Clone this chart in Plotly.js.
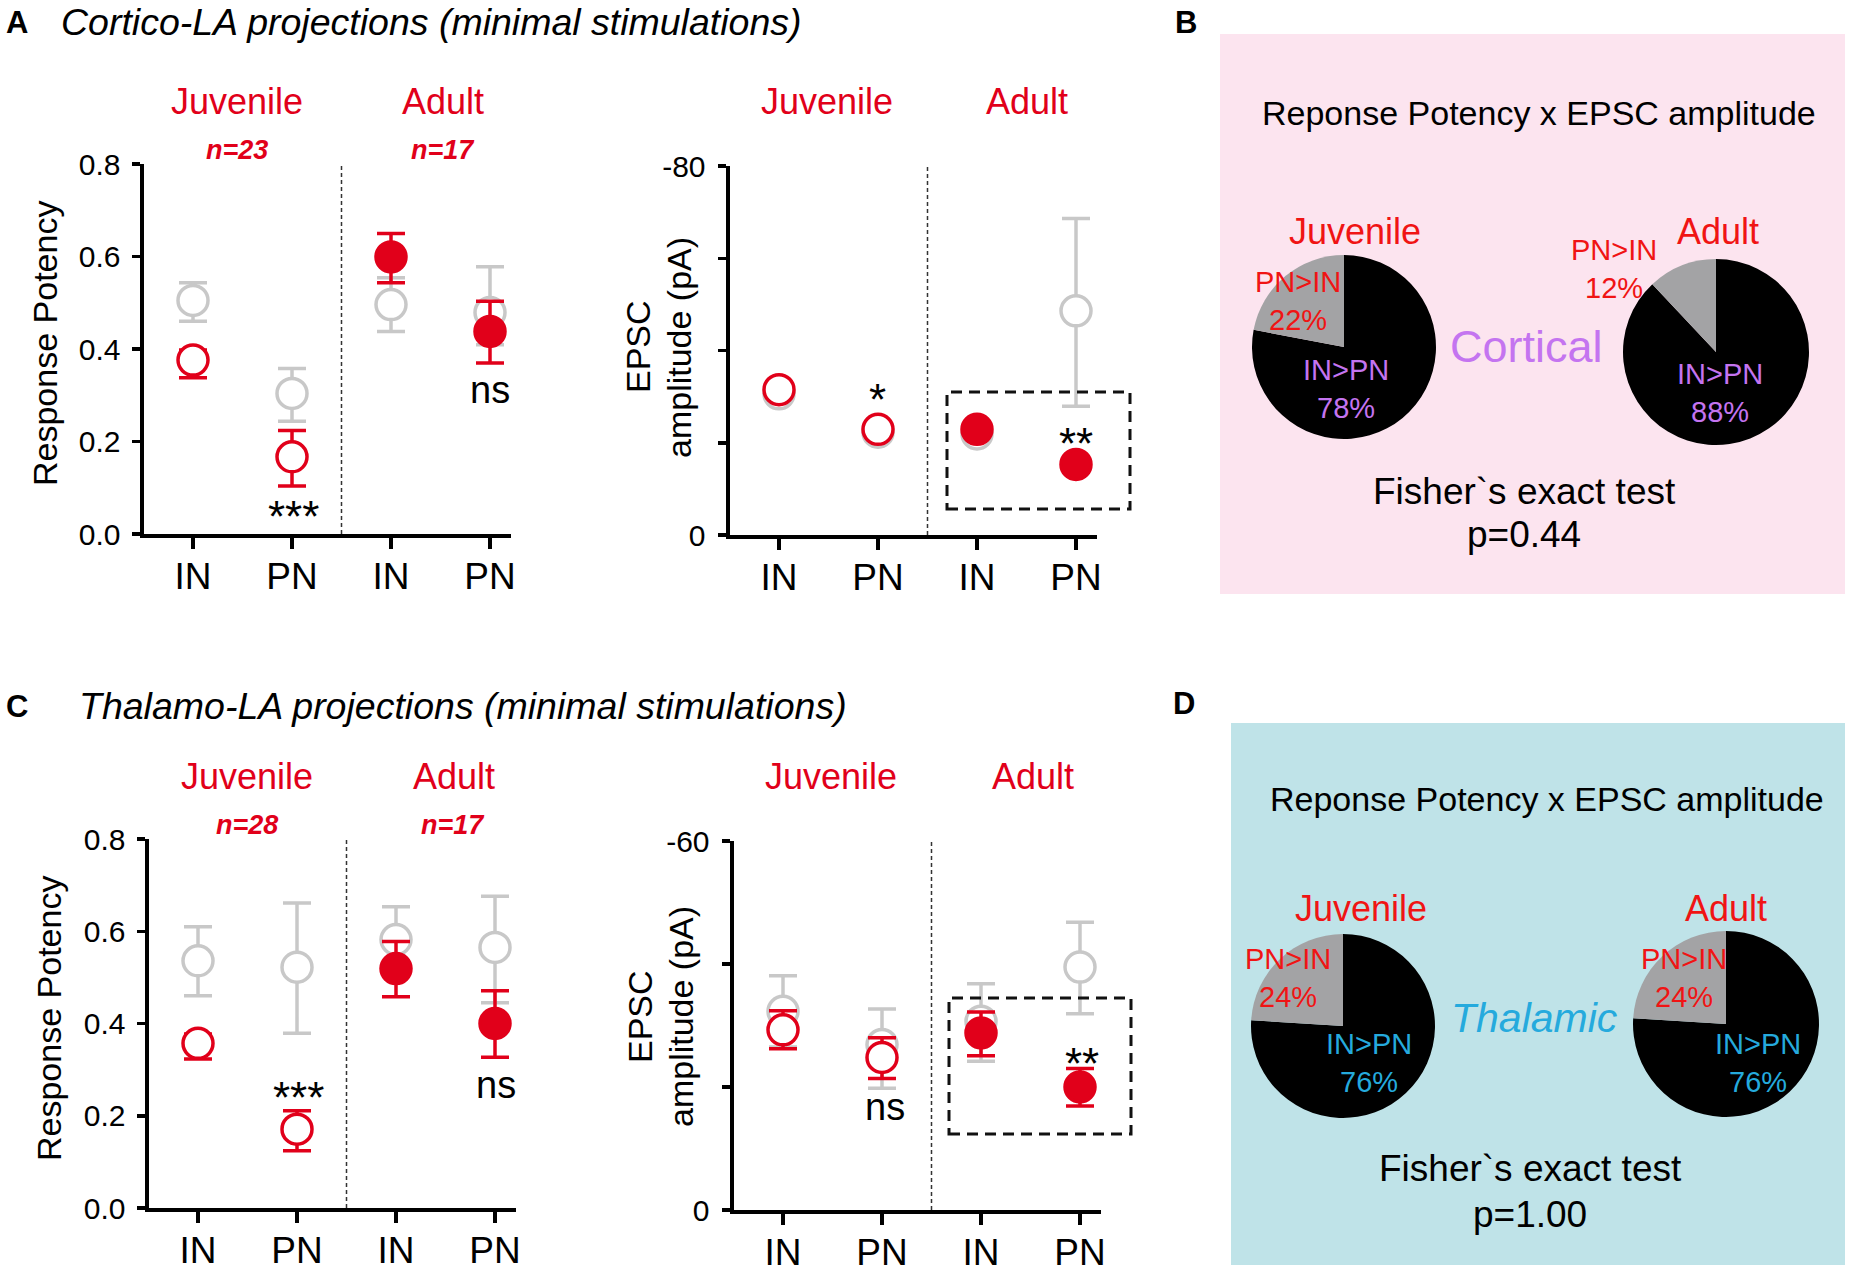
<!DOCTYPE html>
<html>
<head>
<meta charset="utf-8">
<script src="https://cdn.plot.ly/plotly-3.0.1.min.js"></script>
<style>
html,body{margin:0;padding:0;background:#fff;}
#chart{width:1851px;height:1273px;}
</style>
</head>
<body>
<div id="chart"></div>
<script>
// ---------------- DATA ----------------
const tickLabels = ['IN', 'PN', 'IN', 'PN'];
const groups = ['Juvenile', 'Adult'];
const xPos = [0, 1, 2, 3];

// Panel A: Cortico-LA, Response Potency
const nCortical = ['n=23', 'n=17'];
const rpCortGrey = [0.505, 0.304, 0.496, 0.479];
const rpCortGreyUp = [0.038, 0.054, 0.058, 0.099];
const rpCortGreyDown = [0.045, 0.060, 0.058, 0.070];
const rpCortRed = [0.376, 0.167, 0.599, 0.438];
const rpCortRedUp = [0.022, 0.057, 0.051, 0.065];
const rpCortRedDown = [0.038, 0.063, 0.056, 0.068];

// Panel A: Cortico-LA, EPSC amplitude (pA)
const epscCortGrey = [-30.6, -22.3, -21.9, -48.6];
const epscCortGreyUp = [1.5, 1.5, 1.5, 20.0];
const epscCortGreyDown = [1.5, 1.5, 1.5, 20.7];
const epscCortRed = [-31.5, -22.9, -22.9, -15.3];
const epscCortRedUp = [1.5, 1.5, 1.5, 1.5];
const epscCortRedDown = [1.5, 1.5, 1.5, 1.5];

// Panel C: Thalamo-LA, Response Potency
const nThalamic = ['n=28', 'n=17'];
const rpThalGrey = [0.536, 0.522, 0.582, 0.565];
const rpThalGreyUp = [0.074, 0.139, 0.071, 0.111];
const rpThalGreyDown = [0.076, 0.143, 0.071, 0.120];
const rpThalRed = [0.357, 0.171, 0.519, 0.400];
const rpThalRedUp = [0.020, 0.040, 0.059, 0.071];
const rpThalRedDown = [0.034, 0.047, 0.061, 0.073];

// Panel C: Thalamo-LA, EPSC amplitude (pA)
const epscThalGrey = [-32.3, -26.9, -30.7, -39.5];
const epscThalGreyUp = [5.8, 5.8, 6.1, 7.3];
const epscThalGreyDown = [5.8, 7.1, 6.5, 7.6];
const epscThalRed = [-29.3, -24.8, -28.8, -20.0];
const epscThalRedUp = [3.1, 3.2, 3.4, 3.0];
const epscThalRedDown = [3.1, 3.4, 3.7, 3.1];

// Significance marks
const sigRpCort = ['***', 'ns'];
const sigEpscCort = ['*', '**'];
const sigRpThal = ['***', 'ns'];
const sigEpscThal = ['ns', '**'];

// Pies (B, D)
const pieLabels = ['IN>PN', 'PN>IN'];
const pieCortJuv = [78, 22];
const pieCortAdult = [88, 12];
const pieThalJuv = [76, 24];
const pieThalAdult = [76, 24];
const fisherCort = 'p=0.44';
const fisherThal = 'p=1.00';

// ---------------- STYLE / LAYOUT HELPERS ----------------
const W = 1851, H = 1273;
const FONT = 'Liberation Sans, Arial, Helvetica, sans-serif';
const RED = '#e1001a';
const GREY = '#c8c8c8';
const PIE_RED = '#f01414';
const PURPLE = '#c474f0';
const CYAN = '#25aadd';
const PIE_GREY = '#a3a3a5';

const fx = p => p / W;
const fy = p => 1 - p / H;

const annotations = [];
const shapes = [];
function ann(text, x, y, o) {
  o = o || {};
  annotations.push({
    text: text, x: fx(x), y: fy(y), xref: 'paper', yref: 'paper',
    xanchor: o.xanchor || 'center', yanchor: o.yanchor || 'middle',
    showarrow: false, textangle: o.angle || 0,
    font: {family: FONT, size: o.size || 30, color: o.color || '#000'}
  });
}

const SP = 99;
function xDom(t0) { return [fx(t0 - 0.5 * SP), fx(t0 + 3.21 * SP)]; }
function yDom(top, bot) { return [fy(bot), fy(top)]; }

function xAxis(t0, anchor) {
  return {
    domain: xDom(t0), anchor: anchor, range: [-0.5, 3.21],
    tickvals: xPos, ticktext: tickLabels,
    showline: true, linewidth: 4, linecolor: '#000',
    ticks: 'outside', ticklen: 11, tickwidth: 3.5, tickcolor: '#000',
    ticklabelstandoff: -4,
    showgrid: false, zeroline: false, fixedrange: true,
    tickfont: {family: FONT, size: 37, color: '#000'}
  };
}
function yAxis(top, bot, anchor, range, tv, tt, standoff) {
  return {
    domain: yDom(top, bot), anchor: anchor, range: range,
    tickvals: tv, ticktext: tt,
    showline: true, linewidth: 4, linecolor: '#000',
    ticks: 'outside', ticklen: 8, tickwidth: 3.5, tickcolor: '#000',
    ticklabelstandoff: standoff,
    showgrid: false, zeroline: false, fixedrange: true,
    tickfont: {family: FONT, size: 30, color: '#000'}
  };
}

// error arrays given as visual up / down
function pointTraces(xa, ya, reversed, grey, gUp, gDn, red, rUp, rDn) {
  const eg = reversed ? {array: gDn, arrayminus: gUp} : {array: gUp, arrayminus: gDn};
  const er = reversed ? {array: rDn, arrayminus: rUp} : {array: rUp, arrayminus: rDn};
  return [
    {
      type: 'scatter', mode: 'markers', x: xPos, y: grey, xaxis: xa, yaxis: ya,
      marker: {symbol: 'circle', size: 30, color: '#fff', line: {color: GREY, width: 3.5}},
      error_y: Object.assign({type: 'data', symmetric: false, color: GREY, thickness: 3.5, width: 14}, eg),
      hoverinfo: 'skip', showlegend: false, cliponaxis: false
    },
    {
      type: 'scatter', mode: 'markers', x: xPos, y: red, xaxis: xa, yaxis: ya,
      marker: {symbol: 'circle', size: 30, color: ['#fff', '#fff', RED, RED],
               line: {color: RED, width: 3.5}},
      error_y: Object.assign({type: 'data', symmetric: false, color: RED, thickness: 3.5, width: 14}, er),
      hoverinfo: 'skip', showlegend: false, cliponaxis: false
    }
  ];
}

// ---------------- TRACES ----------------
let data = [];
data = data.concat(pointTraces('x', 'y', false, rpCortGrey, rpCortGreyUp, rpCortGreyDown, rpCortRed, rpCortRedUp, rpCortRedDown));
data = data.concat(pointTraces('x2', 'y2', true, epscCortGrey, epscCortGreyUp, epscCortGreyDown, epscCortRed, epscCortRedUp, epscCortRedDown));
data = data.concat(pointTraces('x3', 'y3', false, rpThalGrey, rpThalGreyUp, rpThalGreyDown, rpThalRed, rpThalRedUp, rpThalRedDown));
data = data.concat(pointTraces('x4', 'y4', true, epscThalGrey, epscThalGreyUp, epscThalGreyDown, epscThalRed, epscThalRedUp, epscThalRedDown));

function pie(values, cx, cy, r) {
  return {
    type: 'pie', values: values, labels: pieLabels, sort: false,
    direction: 'clockwise', rotation: 0, textinfo: 'none', hoverinfo: 'skip',
    marker: {colors: ['#000', PIE_GREY], line: {width: 0}},
    domain: {x: [fx(cx - r), fx(cx + r)], y: [fy(cy + r), fy(cy - r)]},
    showlegend: false
  };
}
data.push(pie(pieCortJuv, 1344, 347, 92));
data.push(pie(pieCortAdult, 1716, 352, 93));
data.push(pie(pieThalJuv, 1343, 1026, 92));
data.push(pie(pieThalAdult, 1726, 1024, 93));

// ---------------- SHAPES ----------------
shapes.push({type: 'rect', xref: 'paper', yref: 'paper', layer: 'below',
  x0: fx(1220), x1: fx(1845), y0: fy(594), y1: fy(34), fillcolor: '#fce4ef', line: {width: 0}});
shapes.push({type: 'rect', xref: 'paper', yref: 'paper', layer: 'below',
  x0: fx(1231), x1: fx(1845), y0: fy(1265), y1: fy(723), fillcolor: '#bfe3e8', line: {width: 0}});
['x', 'x2', 'x3', 'x4'].forEach((xa, i) => {
  shapes.push({type: 'line', xref: xa, yref: (i === 0 ? 'y' : 'y' + (i + 1)) + ' domain',
    x0: 1.5, x1: 1.5, y0: 0, y1: 1, line: {color: '#333', width: 1.5, dash: '4px,3px'}});
});
shapes.push({type: 'rect', xref: 'paper', yref: 'paper',
  x0: fx(947), x1: fx(1130), y0: fy(509), y1: fy(392), line: {color: '#111', width: 3, dash: '11px,7px'}});
shapes.push({type: 'rect', xref: 'paper', yref: 'paper',
  x0: fx(949), x1: fx(1131), y0: fy(1134), y1: fy(998), line: {color: '#111', width: 3, dash: '11px,7px'}});

// ---------------- ANNOTATIONS ----------------
ann('<b>A</b>', 17, 22, {size: 31});
ann('<i>Cortico-LA projections (minimal stimulations)</i>', 59, 22, {size: 37.5, xanchor: 'left'});
ann('<b>B</b>', 1186, 22, {size: 31});
ann('<b>C</b>', 17, 706, {size: 31});
ann('<i>Thalamo-LA projections (minimal stimulations)</i>', 77, 706, {size: 37.5, xanchor: 'left'});
ann('<b>D</b>', 1184, 704, {size: 31});

ann(groups[0], 237, 101, {size: 36, color: RED});
ann(groups[1], 443, 101, {size: 36, color: RED});
ann('<b><i>' + nCortical[0] + '</i></b>', 237, 150, {size: 27, color: RED});
ann('<b><i>' + nCortical[1] + '</i></b>', 443, 150, {size: 27, color: RED});
ann(groups[0], 827, 101, {size: 36, color: RED});
ann(groups[1], 1027, 101, {size: 36, color: RED});

ann(groups[0], 247, 776, {size: 36, color: RED});
ann(groups[1], 454, 776, {size: 36, color: RED});
ann('<b><i>' + nThalamic[0] + '</i></b>', 247, 825, {size: 27, color: RED});
ann('<b><i>' + nThalamic[1] + '</i></b>', 453, 825, {size: 27, color: RED});
ann(groups[0], 831, 776, {size: 36, color: RED});
ann(groups[1], 1033, 776, {size: 36, color: RED});

ann('Response Potency', 45, 344, {size: 34, angle: -90});
ann('EPSC', 638, 347, {size: 34, angle: -90});
ann('amplitude (pA)', 679, 348, {size: 34, angle: -90});
ann('Response Potency', 49, 1019, {size: 34, angle: -90});
ann('EPSC', 640, 1017, {size: 34, angle: -90});
ann('amplitude (pA)', 681, 1017, {size: 34, angle: -90});

ann(sigRpCort[0], 293, 516, {size: 44});
ann(sigRpCort[1], 490, 390, {size: 38});
ann(sigEpscCort[0], 877, 399, {size: 44});
ann(sigEpscCort[1], 1076, 443, {size: 44});
ann(sigRpThal[0], 298, 1097, {size: 44});
ann(sigRpThal[1], 496, 1085, {size: 38});
ann(sigEpscThal[0], 885, 1107, {size: 38});
ann(sigEpscThal[1], 1082, 1063, {size: 44});

ann('Reponse Potency x EPSC amplitude', 1539, 113, {size: 34});
ann(groups[0], 1355, 231, {size: 36, color: PIE_RED});
ann(groups[1], 1718, 231, {size: 36, color: PIE_RED});
ann(pieLabels[1] + '<br>' + pieCortJuv[1] + '%', 1298, 301, {size: 29, color: PIE_RED});
ann(pieLabels[0] + '<br>' + pieCortJuv[0] + '%', 1346, 389, {size: 29, color: PURPLE});
ann('Cortical', 1526, 346, {size: 45, color: PURPLE});
ann(pieLabels[1] + '<br>' + pieCortAdult[1] + '%', 1614, 269, {size: 29, color: PIE_RED});
ann(pieLabels[0] + '<br>' + pieCortAdult[0] + '%', 1720, 393, {size: 29, color: PURPLE});
ann('Fisher`s exact test', 1524, 492, {size: 37});
ann(fisherCort, 1524, 535, {size: 37});

ann('Reponse Potency x EPSC amplitude', 1547, 799, {size: 34});
ann(groups[0], 1361, 908, {size: 36, color: PIE_RED});
ann(groups[1], 1726, 908, {size: 36, color: PIE_RED});
ann(pieLabels[1] + '<br>' + pieThalJuv[1] + '%', 1288, 978, {size: 29, color: PIE_RED});
ann(pieLabels[0] + '<br>' + pieThalJuv[0] + '%', 1369, 1063, {size: 29, color: CYAN});
ann('<i>Thalamic</i>', 1534, 1018, {size: 41, color: CYAN});
ann(pieLabels[1] + '<br>' + pieThalAdult[1] + '%', 1684, 978, {size: 29, color: PIE_RED});
ann(pieLabels[0] + '<br>' + pieThalAdult[0] + '%', 1758, 1063, {size: 29, color: CYAN});
ann('Fisher`s exact test', 1530, 1168, {size: 37});
ann(fisherThal, 1530, 1214, {size: 37});

// ---------------- LAYOUT ----------------
const layout = {
  width: W, height: H,
  margin: {l: 0, r: 0, t: 0, b: 0},
  paper_bgcolor: '#fff', plot_bgcolor: 'rgba(0,0,0,0)',
  font: {family: FONT, color: '#000'},
  showlegend: false,
  xaxis: xAxis(193, 'y'),
  yaxis: yAxis(164, 534, 'x', [0, 0.8], [0, 0.2, 0.4, 0.6, 0.8], ['0.0', '0.2', '0.4', '0.6', '0.8'], 5),
  xaxis2: xAxis(779, 'y2'),
  yaxis2: yAxis(166, 535, 'x2', [0, -80], [0, -20, -40, -60, -80], ['0', '', '', '', '-80'], 6),
  xaxis3: xAxis(198, 'y3'),
  yaxis3: yAxis(839, 1208, 'x3', [0, 0.8], [0, 0.2, 0.4, 0.6, 0.8], ['0.0', '0.2', '0.4', '0.6', '0.8'], 5),
  xaxis4: xAxis(783, 'y4'),
  yaxis4: yAxis(841, 1210, 'x4', [0, -60], [0, -20, -40, -60], ['0', '', '', '-60'], 6),
  shapes: shapes,
  annotations: annotations
};

Plotly.newPlot('chart', data, layout, {staticPlot: true, displayModeBar: false});
</script>
</body>
</html>
